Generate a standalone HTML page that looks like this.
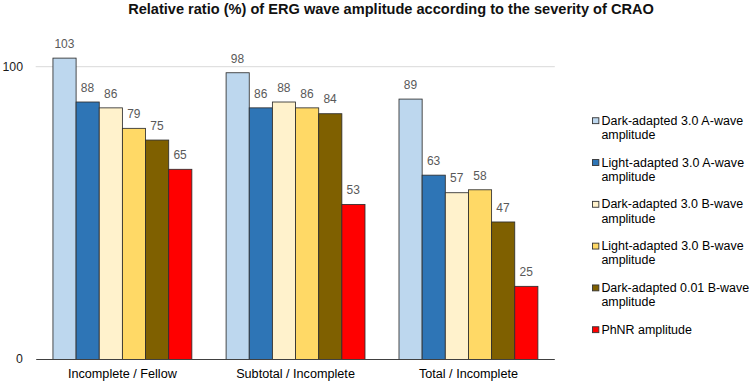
<!DOCTYPE html>
<html><head><meta charset="utf-8"><title>chart</title>
<style>
html,body{margin:0;padding:0;background:#fff;}
body{width:752px;height:384px;overflow:hidden;font-family:"Liberation Sans",sans-serif;}
svg{display:block;}
text{font-family:"Liberation Sans",sans-serif;}
.t{font-weight:bold;font-size:14.58px;fill:#111;}
.dl{font-size:12.9px;fill:#595959;text-anchor:middle;}
.ax{font-size:12.3px;fill:#1a1a1a;}
.cat{font-size:12.65px;fill:#000;text-anchor:middle;}
.lg{font-size:12.45px;fill:#000;}
</style></head><body>
<svg width="752" height="384" viewBox="0 0 752 384">
<rect width="752" height="384" fill="#fff"/>
<text class="t" x="391" y="14.0" text-anchor="middle">Relative ratio (%) of ERG wave amplitude according to the severity of CRAO</text>

<line x1="35.7" y1="66.7" x2="554.8" y2="66.7" stroke="#D9D9D9" stroke-width="1"/>
<rect x="52.95" y="58.12" width="23.15" height="301.38" fill="#BDD7EE" stroke="#2e2e2e" stroke-width="0.85"/>
<text class="dl" transform="translate(64.38 47.87) scale(0.93 1)">103</text>
<rect x="76.10" y="102.01" width="23.15" height="257.49" fill="#2E75B6" stroke="#2e2e2e" stroke-width="0.85"/>
<text class="dl" transform="translate(87.52 91.76) scale(0.93 1)">88</text>
<rect x="99.25" y="107.86" width="23.15" height="251.64" fill="#FFF2CC" stroke="#2e2e2e" stroke-width="0.85"/>
<text class="dl" transform="translate(110.67 97.61) scale(0.93 1)">86</text>
<rect x="122.40" y="128.35" width="23.15" height="231.15" fill="#FFD966" stroke="#2e2e2e" stroke-width="0.85"/>
<text class="dl" transform="translate(133.82 118.10) scale(0.93 1)">79</text>
<rect x="145.55" y="140.05" width="23.15" height="219.45" fill="#7F6000" stroke="#2e2e2e" stroke-width="0.85"/>
<text class="dl" transform="translate(156.97 129.80) scale(0.93 1)">75</text>
<rect x="168.70" y="169.31" width="23.15" height="190.19" fill="#FF0000" stroke="#2e2e2e" stroke-width="0.85"/>
<text class="dl" transform="translate(180.12 159.06) scale(0.93 1)">65</text>
<text class="cat" x="122.40" y="378">Incomplete / Fellow</text>
<rect x="226.10" y="72.75" width="23.15" height="286.75" fill="#BDD7EE" stroke="#2e2e2e" stroke-width="0.85"/>
<text class="dl" transform="translate(237.52 62.50) scale(0.93 1)">98</text>
<rect x="249.25" y="107.86" width="23.15" height="251.64" fill="#2E75B6" stroke="#2e2e2e" stroke-width="0.85"/>
<text class="dl" transform="translate(260.68 97.61) scale(0.93 1)">86</text>
<rect x="272.40" y="102.01" width="23.15" height="257.49" fill="#FFF2CC" stroke="#2e2e2e" stroke-width="0.85"/>
<text class="dl" transform="translate(283.82 91.76) scale(0.93 1)">88</text>
<rect x="295.55" y="107.86" width="23.15" height="251.64" fill="#FFD966" stroke="#2e2e2e" stroke-width="0.85"/>
<text class="dl" transform="translate(306.97 97.61) scale(0.93 1)">86</text>
<rect x="318.70" y="113.72" width="23.15" height="245.78" fill="#7F6000" stroke="#2e2e2e" stroke-width="0.85"/>
<text class="dl" transform="translate(330.12 103.47) scale(0.93 1)">84</text>
<rect x="341.85" y="204.42" width="23.15" height="155.08" fill="#FF0000" stroke="#2e2e2e" stroke-width="0.85"/>
<text class="dl" transform="translate(353.28 194.17) scale(0.93 1)">53</text>
<text class="cat" x="295.55" y="378">Subtotal / Incomplete</text>
<rect x="399.00" y="99.09" width="23.15" height="260.41" fill="#BDD7EE" stroke="#2e2e2e" stroke-width="0.85"/>
<text class="dl" transform="translate(410.43 88.84) scale(0.93 1)">89</text>
<rect x="422.15" y="175.16" width="23.15" height="184.34" fill="#2E75B6" stroke="#2e2e2e" stroke-width="0.85"/>
<text class="dl" transform="translate(433.57 164.91) scale(0.93 1)">63</text>
<rect x="445.30" y="192.72" width="23.15" height="166.78" fill="#FFF2CC" stroke="#2e2e2e" stroke-width="0.85"/>
<text class="dl" transform="translate(456.73 182.47) scale(0.93 1)">57</text>
<rect x="468.45" y="189.79" width="23.15" height="169.71" fill="#FFD966" stroke="#2e2e2e" stroke-width="0.85"/>
<text class="dl" transform="translate(479.88 179.54) scale(0.93 1)">58</text>
<rect x="491.60" y="221.98" width="23.15" height="137.52" fill="#7F6000" stroke="#2e2e2e" stroke-width="0.85"/>
<text class="dl" transform="translate(503.03 211.73) scale(0.93 1)">47</text>
<rect x="514.75" y="286.35" width="23.15" height="73.15" fill="#FF0000" stroke="#2e2e2e" stroke-width="0.85"/>
<text class="dl" transform="translate(526.18 276.10) scale(0.93 1)">25</text>
<text class="cat" x="468.45" y="378">Total / Incomplete</text>
<line x1="36.2" y1="359.5" x2="554.8" y2="359.5" stroke="#404040" stroke-width="1.1"/>
<text class="ax" x="22.8" y="363.4" text-anchor="end">0</text>
<text class="ax" x="23" y="70.6" text-anchor="end">100</text>
<rect x="592.55" y="117.75" width="6.3" height="5.9" fill="#BDD7EE" stroke="#333" stroke-width="0.9"/>
<text class="lg" x="601.4" y="124.70" textLength="141.75" lengthAdjust="spacing">Dark-adapted 3.0 A-wave</text>
<text class="lg" x="601.4" y="139.00">amplitude</text>
<rect x="592.55" y="159.55" width="6.3" height="5.9" fill="#2E75B6" stroke="#333" stroke-width="0.9"/>
<text class="lg" x="601.4" y="166.50" textLength="142.65" lengthAdjust="spacing">Light-adapted 3.0 A-wave</text>
<text class="lg" x="601.4" y="180.80">amplitude</text>
<rect x="592.55" y="201.35" width="6.3" height="5.9" fill="#FFF2CC" stroke="#333" stroke-width="0.9"/>
<text class="lg" x="601.4" y="208.30" textLength="141.75" lengthAdjust="spacing">Dark-adapted 3.0 B-wave</text>
<text class="lg" x="601.4" y="222.60">amplitude</text>
<rect x="592.55" y="243.15" width="6.3" height="5.9" fill="#FFD966" stroke="#333" stroke-width="0.9"/>
<text class="lg" x="601.4" y="250.10" textLength="142.15" lengthAdjust="spacing">Light-adapted 3.0 B-wave</text>
<text class="lg" x="601.4" y="264.40">amplitude</text>
<rect x="592.55" y="284.95" width="6.3" height="5.9" fill="#7F6000" stroke="#333" stroke-width="0.9"/>
<text class="lg" x="601.4" y="291.90" textLength="147.65" lengthAdjust="spacing">Dark-adapted 0.01 B-wave</text>
<text class="lg" x="601.4" y="306.20">amplitude</text>
<rect x="592.55" y="326.75" width="6.3" height="5.9" fill="#FF0000" stroke="#333" stroke-width="0.9"/>
<text class="lg" x="601.4" y="333.70" textLength="90.45" lengthAdjust="spacing">PhNR amplitude</text>
</svg></body></html>
